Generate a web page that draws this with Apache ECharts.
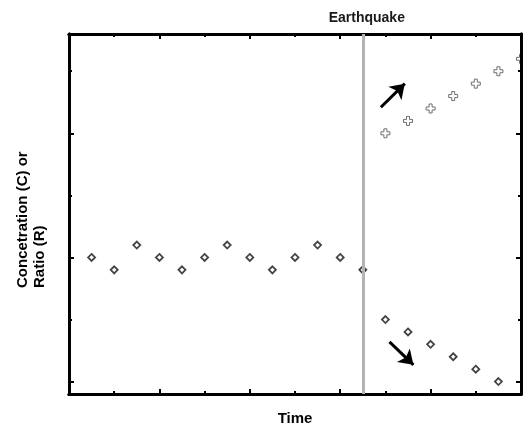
<!DOCTYPE html>
<html>
<head>
<meta charset="utf-8">
<script src="https://cdn.jsdelivr.net/npm/echarts@6/dist/echarts.min.js"></script>
<style>
html,body{margin:0;padding:0;background:#fff;}
#chart{width:523px;height:427px;}
</style>
</head>
<body>
<div id="chart"></div>
<script>
// ---- data ----
const beforeTime = [0.5, 1.0, 1.5, 2.0, 2.5, 3.0, 3.5, 4.0, 4.5, 5.0, 5.5, 6.0, 6.5];
const beforeValue = [2.0, 1.8, 2.2, 2.0, 1.8, 2.0, 2.2, 2.0, 1.8, 2.0, 2.2, 2.0, 1.8];
const ratioTime = [7.0, 7.5, 8.0, 8.5, 9.0, 9.5, 10.0];
const ratioValue = [4.0, 4.2, 4.4, 4.6, 4.8, 5.0, 5.2];
const concTime = [7.0, 7.5, 8.0, 8.5, 9.0, 9.5];
const concValue = [1.0, 0.8, 0.6, 0.4, 0.2, 0.0];
const earthquakeTime = 6.5;
const upArrow = [[6.90, 4.42], [7.43, 4.80]];
const downArrow = [[7.09, 0.64], [7.62, 0.27]];
const xMajorTicks = [2, 4, 6, 8];
const xMinorTicks = [1, 3, 5, 7, 9];
const yMajorTicks = [0, 2, 4];
const yMinorTicks = [1, 3, 5];

const FONT = "'Liberation Sans', Arial, Helvetica, sans-serif";

const chart = echarts.init(document.getElementById('chart'), null, {renderer: 'canvas'});

function xAxisDef(pos, ticks, len, extra) {
  return Object.assign({
    type: 'value', position: pos, min: 0, max: 10,
    axisLine: {show: true, onZero: false, lineStyle: {color: '#000', width: 3}},
    axisTick: {show: true, inside: true, length: len, customValues: ticks, lineStyle: {color: '#000', width: 2}},
    axisLabel: {show: false},
    splitLine: {show: false}
  }, extra || {});
}
function yAxisDef(pos, ticks, len, extra) {
  return Object.assign({
    type: 'value', position: pos, min: -0.2, max: 5.6,
    axisLine: {show: true, onZero: false, lineStyle: {color: '#000', width: 3}},
    axisTick: {show: true, inside: true, length: len, customValues: ticks, lineStyle: {color: '#000', width: 2}},
    axisLabel: {show: false},
    splitLine: {show: false}
  }, extra || {});
}

const zip = (a, b) => a.map((v, i) => [v, b[i]]);

const plusPath = 'path://M3,0L6,0L6,3L9,3L9,6L6,6L6,9L3,9L3,6L0,6L0,3L3,3Z';

const option = {
  animation: false,
  backgroundColor: '#fff',
  textStyle: {fontFamily: FONT},
  grid: {left: 69, right: 2, top: 34, bottom: 33, containLabel: false, outerBoundsMode: 'none'},
  xAxis: [
    xAxisDef('bottom', xMajorTicks, 5, {
      name: 'Time', nameLocation: 'middle', nameGap: 17,
      nameTextStyle: {fontFamily: FONT, fontWeight: 'bold', fontSize: 15, color: '#000'}
    }),
    xAxisDef('bottom', xMinorTicks, 3),
    xAxisDef('top', xMajorTicks, 5),
    xAxisDef('top', xMinorTicks, 3)
  ],
  yAxis: [
    yAxisDef('left', yMajorTicks, 5),
    yAxisDef('left', yMinorTicks, 3),
    yAxisDef('right', yMajorTicks, 5, {z: 5}),
    yAxisDef('right', yMinorTicks, 3, {z: 5})
  ],
  graphic: [{
    type: 'text',
    x: 31, y: 288,
    rotation: Math.PI / 2,
    style: {
      text: 'Concetration (C) or\nRatio (R)',
      font: 'bold 15px ' + FONT,
      fill: '#000',
      textAlign: 'left',
      textVerticalAlign: 'middle',
      lineHeight: 17
    }
  }],
  series: [
    {
      name: 'Earthquake',
      type: 'line',
      data: [],
      z: 1,
      markLine: {
        silent: true,
        symbol: 'none',
        lineStyle: {color: '#b3b3b3', width: 3, type: 'solid'},
        label: {
          show: true, position: 'end', formatter: 'Earthquake',
          fontFamily: FONT, fontWeight: 'bold', fontSize: 14, color: '#1a1a1a',
          distance: 9, padding: [0, 0, 0, 8]
        },
        emphasis: {disabled: true},
        data: [{xAxis: earthquakeTime}]
      }
    },
    {
      name: 'Before',
      type: 'scatter',
      z: 3,
      symbol: 'diamond',
      symbolSize: 7,
      itemStyle: {color: '#fff', borderColor: '#444', borderWidth: 1.8, opacity: 1},
      data: zip(beforeTime, beforeValue)
    },
    {
      name: 'Ratio (R)',
      type: 'scatter',
      z: 3,
      clip: false,
      symbol: plusPath,
      symbolSize: 9,
      itemStyle: {color: '#fff', borderColor: '#6e6e6e', borderWidth: 1, opacity: 1},
      data: zip(ratioTime, ratioValue)
    },
    {
      name: 'Concentration (C)',
      type: 'scatter',
      z: 3,
      symbol: 'diamond',
      symbolSize: 7,
      itemStyle: {color: '#fff', borderColor: '#444', borderWidth: 1.8, opacity: 1},
      data: zip(concTime, concValue)
    },
    {
      name: 'Arrows',
      type: 'line',
      data: [],
      z: 4,
      markLine: {
        silent: true,
        symbol: ['none', 'arrow'],
        symbolSize: 14,
        lineStyle: {color: '#000', width: 3, type: 'solid'},
        itemStyle: {color: '#000'},
        label: {show: false},
        emphasis: {disabled: true},
        data: [
          [{coord: upArrow[0]}, {coord: upArrow[1]}],
          [{coord: downArrow[0]}, {coord: downArrow[1]}]
        ]
      }
    }
  ]
};

chart.setOption(option);
</script>
</body>
</html>
